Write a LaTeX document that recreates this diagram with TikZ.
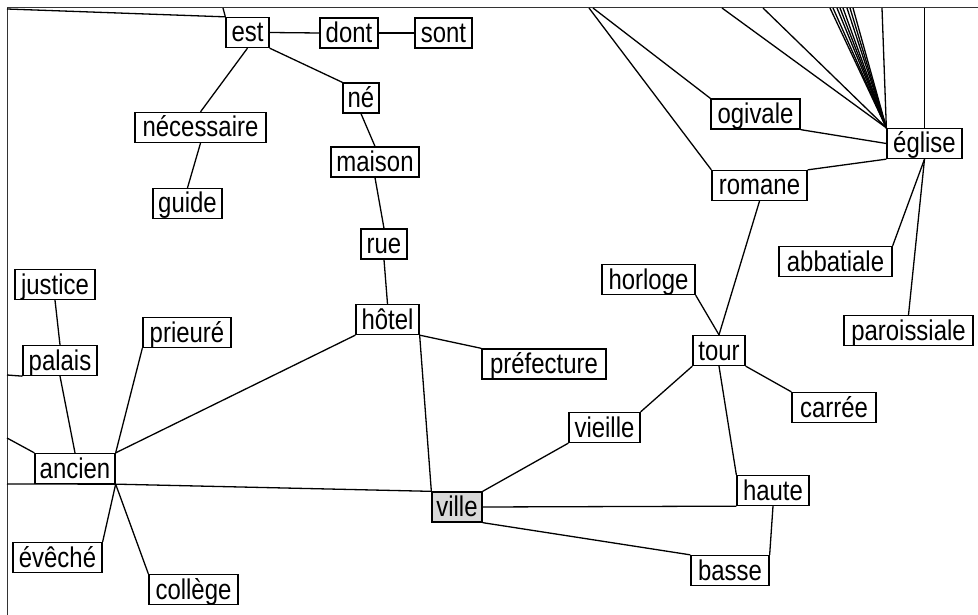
\documentclass[tikz,border=0pt]{standalone}
\usepackage{fontspec}
\setmainfont{Liberation Sans}[FakeStretch=0.84]
\begin{document}
\begin{tikzpicture}[x=1pt,y=-1pt,
  box/.style={draw=black, line width=1.3pt, fill=white, inner sep=0pt,
    minimum height=30pt, text height=19pt, text depth=0pt,
    font=\fontsize{28.5}{30}\selectfont},
  link/.style={line width=1.3pt, black},
  frame/.style={line width=1pt, black!80}]
\useasboundingbox (0,0) rectangle (978,615);
\fill[white] (0,0) rectangle (978,615);
\draw[frame] (7,615) -- (7,8) -- (978,8);

% nodes
\node[box, minimum width=43pt] (est) at (247.5,32.5) {est};
\node[box, minimum width=58pt] (dont) at (349,33) {dont};
\node[box, minimum width=57pt] (sont) at (443.5,33) {sont};
\node[box, minimum width=36pt] (ne) at (361,98) {né};
\node[box, minimum width=131pt] (nec) at (200.5,127.5) {nécessaire};
\node[box, minimum width=88pt] (maison) at (375,162) {maison};
\node[box, minimum width=69pt] (guide) at (187.5,203.5) {guide};
\node[box, minimum width=46pt] (rue) at (384,244) {rue};
\node[box, minimum width=80pt] (justice) at (55,284.5) {justice};
\node[box, minimum width=74pt] (palais) at (60,360.5) {palais};
\node[box, minimum width=88pt] (prieure) at (187,332.5) {prieuré};
\node[box, minimum width=63pt] (hotel) at (387.5,319.5) {hôtel};
\node[box, minimum width=80pt] (ancien) at (75,468.5) {ancien};
\node[box, minimum width=50pt, fill=black!15] (ville) at (457,507) {ville};
\node[box, minimum width=89pt] (eveche) at (57.5,557.5) {évêché};
\node[box, minimum width=89pt] (college) at (193.5,589.5) {collège};
\node[box, minimum width=89pt] (ogivale) at (755.5,114) {ogivale};
\node[box, minimum width=75pt] (eglise) at (924.5,143.5) {église};
\node[box, minimum width=95pt] (romane) at (759.5,185.5) {romane};
\node[box, minimum width=93pt] (horloge) at (648.5,279.5) {horloge};
\node[box, minimum width=113pt] (abbatiale) at (835.5,261.5) {abbatiale};
\node[box, minimum width=129pt] (paroissiale) at (908.5,330.5) {paroissiale};
\node[box, minimum width=52pt] (tour) at (719,350.5) {tour};
\node[box, minimum width=124pt] (prefecture) at (544,364) {préfecture};
\node[box, minimum width=84pt] (carree) at (834,407.5) {carrée};
\node[box, minimum width=71pt] (vieille) at (604.5,427.5) {vieille};
\node[box, minimum width=72pt] (haute) at (773,490.5) {haute};
\node[box, minimum width=78pt] (basse) at (730,570.5) {basse};

% free ends beyond the picture
\coordinate (tl1) at (7,9);
\coordinate (tl2) at (223,8);
\coordinate (l1) at (7,375);
\coordinate (l2) at (7,438);
\coordinate (l3) at (7,484);
\coordinate (t1) at (589,8);
\coordinate (t2) at (593,8);
\coordinate (f1) at (722,8);
\coordinate (f2) at (763,8);
\coordinate (f3) at (830,8);
\coordinate (f4) at (833,8);
\coordinate (f5) at (837,8);
\coordinate (f6) at (840,8);
\coordinate (f7) at (843,8);
\coordinate (f8) at (847,8);
\coordinate (f9) at (850,8);
\coordinate (f10) at (853,8);
\coordinate (f11) at (882,8);
\coordinate (f12) at (924.5,8);

% connectors
\draw[link] (tl1) -- (est.north west);
\draw[link] (tl2) -- (est.north west);
\draw[link] (est.east) -- (dont.west);
\draw[link] (dont.east) -- (sont.west);
\draw[link] (est.south) -- (nec.north);
\draw[link] (est.south east) -- (ne.north west);
\draw[link] (ne.south) -- (maison.north);
\draw[link] (nec.south) -- (guide.north);
\draw[link] (maison.south) -- (rue.north);
\draw[link] (rue.south) -- (hotel.north);
\draw[link] (hotel.south east) -- (prefecture.north west);
\draw[link] (hotel.south east) -- (ville.north west);
\draw[link] (hotel.south west) -- (ancien.north east);
\draw[link] (ancien.north east) -- (prieure.south west);
\draw[link] (palais.south) -- (ancien.north);
\draw[link] (justice.south) -- (palais.north);
\draw[link] (l1) -- (palais.south west);
\draw[link] (l2) -- (ancien.north west);
\draw[link] (l3) -- (ancien.south east);
\draw[link] (ancien.south east) -- (ville.north west);
\draw[link] (ancien.south east) -- (eveche.north east);
\draw[link] (ancien.south east) -- (college.north west);
\draw[link] (ville.north east) -- (vieille.south west);
\draw[link] (ville.east) -- (haute.south west);
\draw[link] (ville.south east) -- (basse.north west);
\draw[link] (haute.south) -- (basse.north east);
\draw[link] (tour.south west) -- (vieille.north east);
\draw[link] (tour.south) -- (haute.north west);
\draw[link] (tour.south east) -- (carree.north west);
\draw[link] (tour.north) -- (horloge.south east);
\draw[link] (tour.north) -- (romane.south);
\draw[link] (romane.north east) -- (eglise.south west);
\draw[link] (ogivale.south east) -- (eglise.west);
\draw[link] (t1) -- (romane.north west);
\draw[link] (t2) -- (ogivale.north west);
\foreach \f in {f1,f2,f3,f4,f5,f6,f7,f8,f9,f10,f11}
  \draw[link] (\f) -- (eglise.north west);
\draw[link] (f12) -- (eglise.north);
\draw[link] (eglise.south) -- (abbatiale.north east);
\draw[link] (eglise.south) -- (paroissiale.north);
\end{tikzpicture}
\end{document}
